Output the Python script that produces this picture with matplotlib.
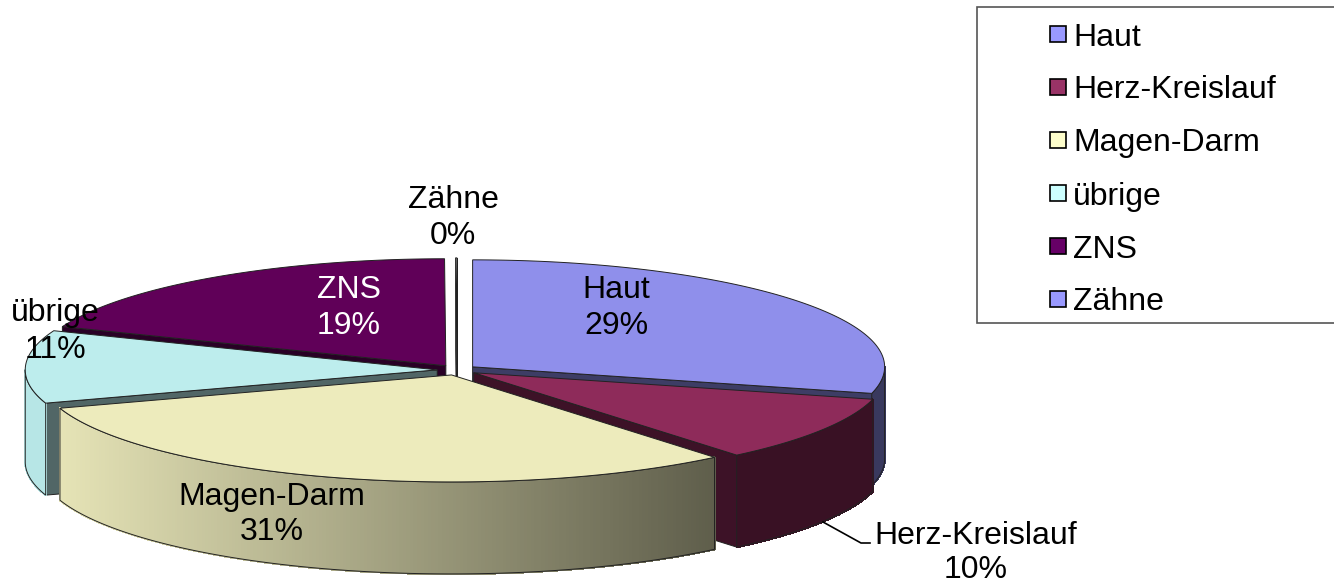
import numpy as np
import matplotlib
matplotlib.use("Agg")
import matplotlib.pyplot as plt
from matplotlib.patches import Polygon, Rectangle

# ---------------- data ----------------
categories = ["Haut", "Herz-Kreislauf", "Magen-Darm", "übrige", "ZNS", "Zähne"]
values = [29, 10, 31, 11, 19, 0.05]
top_colors = ["#8F8FEB", "#8E2B5A", "#EDEBBC", "#BDEDED", "#600058", "#FFFFFF"]
legend_colors = ["#9999FF", "#993366", "#FFFFCC", "#CCFFFF", "#660066", "#9999FF"]
label_colors = ["black", "black", "black", "black", "white", "black"]

# ---------------- layout ----------------
W, H = 1334, 583
plt.rcParams['font.family'] = ['Liberation Sans', 'DejaVu Sans']
fig = plt.figure(figsize=(W / 100, H / 100), dpi=100)
ax = fig.add_axes([0, 0, 1, 1])
ax.set_xlim(0, W)
ax.set_ylim(H, 0)
ax.axis('off')

cx, cy, rx, ry, depth, explode = 457, 370, 412, 107, 92, 0.048
edge_c, edge_w = "#222222", 0.7
FS = 23

total = sum(values)
fracs = [v / total for v in values]
slices = []
hi = 90.0
for f in fracs:
    lo = hi - f * 360.0
    slices.append((lo, hi))
    hi = lo


def shade(x):
    t = np.clip((x - 60) / (715 - 60), 0, 1)
    return 0.97 - 0.57 * t


def rgb(c):
    return np.array(matplotlib.colors.to_rgb(c))


def point(theta, r, off, z=0.0):
    t = np.radians(theta)
    return (cx + off[0] + r * rx * np.cos(t), cy + off[1] - r * ry * np.sin(t) + z)


def arc(a1, a2, off, z=0.0, n=None):
    if n is None:
        n = max(2, int(abs(a2 - a1) * 2) + 2)
    th = np.linspace(a1, a2, n)
    return [point(t, 1.0, off, z) for t in th]


order = sorted(range(len(values)),
               key=lambda i: -np.sin(np.radians((slices[i][0] + slices[i][1]) / 2)))

for i in order:
    lo, hi = slices[i]
    mid = np.radians((lo + hi) / 2)
    off = (explode * rx * np.cos(mid), -explode * ry * np.sin(mid))
    base = rgb(top_colors[i])
    apex = point(0, 0, off)
    apex_b = point(0, 0, off, depth)

    # radial walls
    for ang, vis in ((lo, np.cos(np.radians(lo)) > 0), (hi, np.cos(np.radians(hi)) < 0)):
        if vis:
            rim = point(ang, 1, off)
            rim_b = point(ang, 1, off, depth)
            ax.add_patch(Polygon([apex, rim, rim_b, apex_b], closed=True,
                                 facecolor=base * 0.43, edgecolor=edge_c,
                                 linewidth=edge_w, zorder=1))

    # outer wall (front side only)
    for k in (-1, 0, 1):
        a1 = max(lo, -180 + 360 * k)
        a2 = min(hi, 360 * k)
        if a2 - a1 > 1e-6:
            n = max(2, int((a2 - a1) * 2) + 2)
            th = np.linspace(a1, a2, n)
            for j in range(n - 1):
                p1 = point(th[j], 1, off)
                p2 = point(th[j + 1], 1, off)
                q2 = point(th[j + 1], 1, off, depth)
                q1 = point(th[j], 1, off, depth)
                c = np.clip(base * shade((p1[0] + p2[0]) / 2), 0, 1)
                ax.add_patch(Polygon([p1, p2, q2, q1], closed=True, facecolor=c,
                                     edgecolor=c, linewidth=1.0, antialiased=False,
                                     zorder=1))
            top_arc = arc(a1, a2, off)
            bot_arc = arc(a2, a1, off, depth)
            ax.add_patch(Polygon(top_arc + bot_arc, closed=True, fill=False,
                                 edgecolor=edge_c, linewidth=edge_w, zorder=1))

    # top face
    ax.add_patch(Polygon([apex] + arc(lo, hi, off), closed=True,
                         facecolor=base, edgecolor=edge_c, linewidth=edge_w, zorder=1))

# ---------------- data labels ----------------
label_pos = {
    "Haut": (616, 287, 323),
    "Herz-Kreislauf": (976, 532, 566),
    "Magen-Darm": (272, 493, 528),
    "übrige": (55, 310, 346),
    "ZNS": (349, 286, 322),
    "Zähne": (453, 197, 232),
}
for i, cat in enumerate(categories):
    x, y1, y2 = label_pos[cat]
    pct = f"{round(fracs[i] * 100):.0f}%"
    ax.text(x, y1 + 11.5, cat, ha='center', va='baseline', fontsize=FS,
            color=label_colors[i], zorder=5)
    ax.text(x, y2 + 11.5, pct, ha='center', va='baseline', fontsize=FS,
            color=label_colors[i], zorder=5)

# leader line for Herz-Kreislauf
ax.plot([823, 861, 870], [522, 543, 543], color='black', linewidth=1.2, zorder=4)

# ---------------- legend ----------------
ax.add_patch(Rectangle((977, 7), 400, 316, facecolor='white', edgecolor='#555555',
                       linewidth=1.2, zorder=3))
for i, cat in enumerate(categories):
    yc = 34 + 53 * i
    ax.add_patch(Rectangle((1050, yc - 8), 16, 16, facecolor=legend_colors[i],
                           edgecolor='black', linewidth=1.2, zorder=4))
    ax.text(1073, yc + 11.5, cat, ha='left', va='baseline', fontsize=FS, zorder=5)

fig.savefig("out.png", dpi=100, facecolor='white')
